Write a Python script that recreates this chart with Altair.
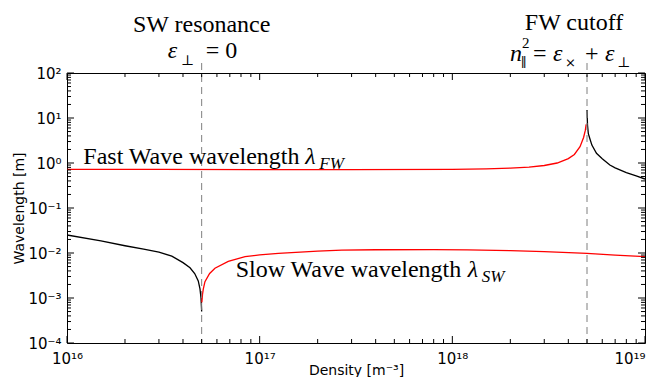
import math
import altair as alt
import pandas as pd

# ---------------- data ----------------
fw_red_n = [1e16, 3e16, 1e17, 3e17, 1e18, 1.5e18, 2e18, 2.5e18, 3e18, 3.5e18,
            4e18, 4.3e18, 4.6e18, 4.8e18, 4.9e18, 4.95e18]
fw_red_lam = [0.72, 0.72, 0.71, 0.71, 0.72, 0.74, 0.77, 0.81, 0.88, 1.0,
              1.25, 1.55, 2.3, 3.7, 5.3, 7.2]

fw_black_n = [5.0e18, 5.03e18, 5.08e18, 5.17e18, 5.3e18, 5.6e18, 6e18, 6.57e18,
              7e18, 8e18, 9e18, 1e19]
fw_black_lam = [15.0, 7.0, 4.5, 3.5, 2.5, 1.64, 1.25, 0.9, 0.78, 0.61, 0.52, 0.44]

sw_black_n = [1e16, 1.5e16, 2e16, 2.5e16, 3e16, 3.5e16, 4e16, 4.35e16, 4.6e16,
              4.8e16, 4.9e16, 4.96e16, 5e16]
sw_black_lam = [0.0251, 0.0185, 0.0145, 0.0122, 0.0104, 0.0085, 0.0061, 0.0047,
                0.0035, 0.0024, 0.0016, 0.0010, 0.0005]

sw_red_n = [5.01e16, 5.05e16, 5.1e16, 5.2e16, 5.5e16, 5.86e16, 6.87e16, 8.4e16,
            1e17, 1.25e17, 2e17, 2.67e17, 4e17, 8e17, 1.2e18, 2e18, 3e18, 5e18,
            7e18, 1e19]
sw_red_lam = [0.0008, 0.0012, 0.0016, 0.0023, 0.0035, 0.0046, 0.0065, 0.0083,
              0.0091, 0.0098, 0.0110, 0.0116, 0.0118, 0.0119, 0.0117, 0.0113,
              0.0107, 0.0098, 0.0090, 0.0083]

markers_n = [5e16, 5e18]  # SW resonance, FW cutoff

x_tick_vals = [1e16, 1e17, 1e18, 1e19]
x_tick_labels = ['10¹⁶', '10¹⁷', '10¹⁸', '10¹⁹']
y_tick_vals = [1e-4, 1e-3, 1e-2, 1e-1, 1e0, 1e1, 1e2]
y_tick_labels = ['10⁻⁴', '10⁻³', '10⁻²', '10⁻¹', '10⁰', '10¹', '10²']
x_minor = [m * 10 ** k for k in range(16, 19) for m in range(2, 10)]
y_minor = [m * 10.0 ** k for k in range(-4, 2) for m in range(2, 10)]

# ---------------- build tables ----------------
rows = []
for name, col, ns, ls in [("fw_red", "#ff0000", fw_red_n, fw_red_lam),
                          ("fw_black", "#000000", fw_black_n, fw_black_lam),
                          ("sw_black", "#000000", sw_black_n, sw_black_lam),
                          ("sw_red", "#ff0000", sw_red_n, sw_red_lam)]:
    for i, (n, l) in enumerate(zip(ns, ls)):
        rows.append({"series": name, "color": col, "n": n, "lam": l, "order": i})
df = pd.DataFrame(rows)

W, H = 578, 270
SERIF = "Liberation Serif"
MATHSYM = "DejaVu Serif"
SANS = "DejaVu Sans"

xscale = alt.Scale(type="log", domain=[1e16, 1e19], nice=False)
yscale = alt.Scale(type="log", domain=[1e-4, 1e2], nice=False)


def label_expr(vals, labels):
    expr = "''"
    for v, lab in zip(vals, labels):
        e = round(math.log10(v))
        expr = f"round(log(datum.value)/LN10) == {e} ? '{lab}' : (" + expr + ")"
    return expr


XAXIS = alt.Axis(values=x_tick_vals, labelExpr=label_expr(x_tick_vals, x_tick_labels),
                 ticks=False, domain=False, grid=False, labelPadding=8,
                 labelFontSize=15, labelFont=SANS, labelColor="black",
                 labelFlush=False, labelOverlap=False,
                 labelAlign=alt.condition(f"datum.value >= {x_tick_vals[-1] * 0.99}",
                                          alt.value("right"), alt.value("center")),
                 title="Density [m⁻³]", titleFont=SANS, titleFontSize=14,
                 titleFontWeight="normal", titleColor="black",
                 titleBaseline="alphabetic", titleY=31, titleX=W / 2, titleAlign="center")
YAXIS = alt.Axis(values=y_tick_vals, labelExpr=label_expr(y_tick_vals, y_tick_labels),
                 ticks=False, domain=False, grid=False, labelPadding=6,
                 labelFontSize=15, labelFont=SANS, labelColor="black",
                 labelFlush=False, labelOverlap=False,
                 title="Wavelength [m]", titleFont=SANS, titleFontSize=14,
                 titleFontWeight="normal", titleColor="black",
                 titleAngle=270, titleBaseline="alphabetic", titleAlign="center",
                 titleX=-44, titleY=H / 2)


def X(field):
    return alt.X(field, scale=xscale, axis=XAXIS)


def Y(field):
    return alt.Y(field, scale=yscale, axis=YAXIS)


lines = alt.Chart(df).mark_line(strokeWidth=1.3, clip=True).encode(
    x=X("n:Q"), y=Y("lam:Q"),
    color=alt.Color("color:N", scale=None),
    detail="series:N",
    order="order:Q",
)

# dashed marker lines
mk = alt.Chart(pd.DataFrame({"n": markers_n})).mark_rule(
    color="#7f7f7f", strokeWidth=1, strokeDash=[7, 5]
).encode(x=X("n:Q"), y=alt.value(-10), y2=alt.value(H))


# inward ticks
def xticks(vals, length, top):
    d = pd.DataFrame({"n": vals})
    y0, y1 = (0, length) if top else (H, H - length)
    return alt.Chart(d).mark_rule(color="black", strokeWidth=1).encode(
        x=X("n:Q"), y=alt.value(y0), y2=alt.value(y1))


def yticks(vals, length, right):
    d = pd.DataFrame({"lam": vals})
    x0, x1 = (W, W - length) if right else (0, length)
    return alt.Chart(d).mark_rule(color="black", strokeWidth=1).encode(
        y=Y("lam:Q"), x=alt.value(x0), x2=alt.value(x1))


ticks = [xticks(x_tick_vals, 7, False), xticks(x_tick_vals, 7, True),
         xticks(x_minor, 4, False), xticks(x_minor, 4, True),
         yticks(y_tick_vals, 7, False), yticks(y_tick_vals, 7, True),
         yticks(y_minor, 4, False), yticks(y_minor, 4, True)]


# text helpers
def txt_data(xn, ylam, text, dx=0, dy=0, size=24, italic=False, align="left"):
    d = pd.DataFrame({"n": [xn], "lam": [ylam], "t": [text]})
    return alt.Chart(d).mark_text(
        font=SERIF, fontSize=size, fontStyle="italic" if italic else "normal",
        align=align, baseline="alphabetic", dx=dx, dy=dy, color="black"
    ).encode(x=X("n:Q"), y=Y("lam:Q"), text="t:N")


def txt_top(xn, ypix, text, dx=0, size=24, italic=False, align="left", font=SERIF):
    d = pd.DataFrame({"n": [xn], "t": [text]})
    return alt.Chart(d).mark_text(
        font=font, fontSize=size, fontStyle="italic" if italic else "normal",
        align=align, baseline="alphabetic", dx=dx, color="black"
    ).encode(x=X("n:Q"), y=alt.value(ypix), text="t:N")


texts = [
    # in-plot labels
    txt_data(1.215e16, 0.95, "Fast Wave wavelength"),
    txt_data(1.215e16, 0.95, "λ", dx=222, italic=True),
    txt_data(1.215e16, 0.95, "FW", dx=236, dy=5, size=17, italic=True),
    txt_data(7.51e16, 0.00297, "Slow Wave wavelength"),
    txt_data(7.51e16, 0.00297, "λ", dx=232, italic=True),
    txt_data(7.51e16, 0.00297, "SW", dx=246, dy=5, size=17, italic=True),
    # SW resonance annotation
    txt_top(5e16, -41, "SW resonance", align="center"),
    txt_top(5e16, -15, "ε", dx=-34, italic=True),
    txt_top(5e16, -8, "⊥", dx=-21, size=14, font=MATHSYM),
    txt_top(5e16, -15, "= 0", dx=4),
    # FW cutoff annotation
    txt_top(5e18, -43, "FW cutoff", dx=-13, align="center"),
    txt_top(5e18, -12, "n", dx=-77, italic=True),
    txt_top(5e18, -25, "2", dx=-65, size=15),
    txt_top(5e18, -6, "∥", dx=-66, size=13, font=MATHSYM),
    txt_top(5e18, -12, "=", dx=-54),
    txt_top(5e18, -12, "ε", dx=-34, italic=True),
    txt_top(5e18, -6, "×", dx=-22, size=13, font=MATHSYM),
    txt_top(5e18, -12, "+", dx=-2),
    txt_top(5e18, -12, "ε", dx=18, italic=True),
    txt_top(5e18, -6, "⊥", dx=30, size=14, font=MATHSYM),
]

chart = alt.layer(lines, mk, *ticks, *texts).properties(
    width=W, height=H,
    autosize=alt.AutoSizeParams(type="none"),
    padding={"left": 59, "top": 65, "right": 7, "bottom": 34},
).configure(background="white").configure_view(stroke="black", strokeWidth=1)

chart.save("out.html", embed_options={"renderer": "svg", "actions": False})
